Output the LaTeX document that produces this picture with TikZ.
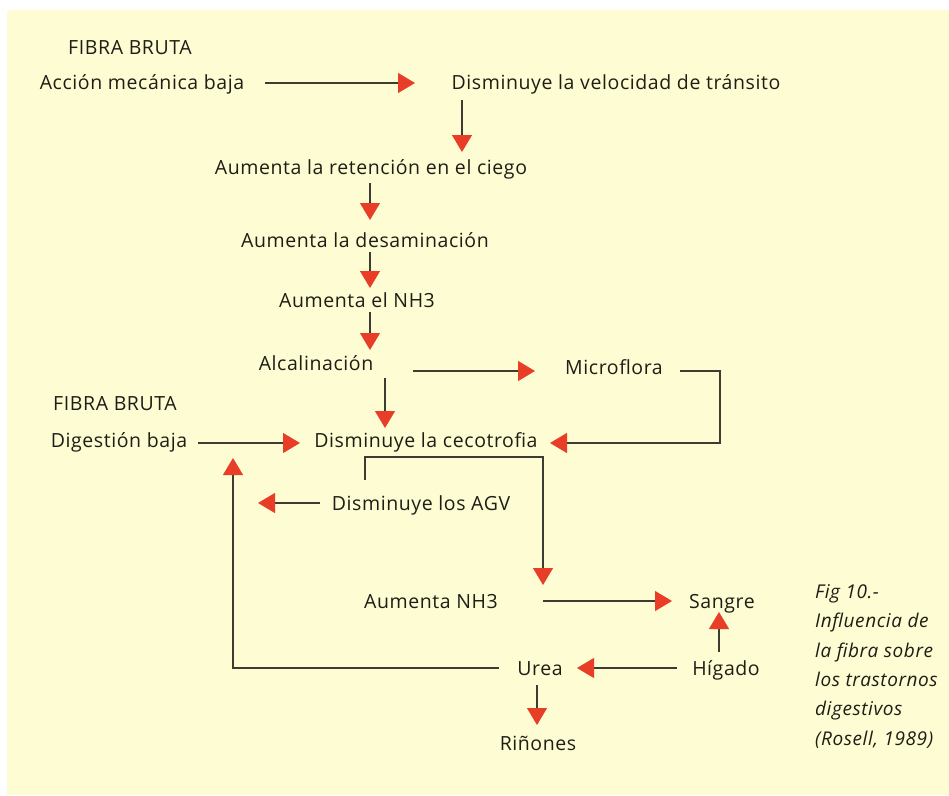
\documentclass[tikz,border=0pt]{standalone}
\usepackage{fontspec}
\setmainfont{Open Sans}[LetterSpace=3]
\usetikzlibrary{arrows.meta,calc}
\definecolor{bgyellow}{RGB}{254,252,210}
\definecolor{arrred}{RGB}{232,62,40}
\definecolor{linegray}{RGB}{60,60,50}
\definecolor{txt}{RGB}{30,30,22}
\begin{document}
\begin{tikzpicture}[x=1pt,y=-1pt,
  lbl/.style={inner sep=0pt,outer sep=0pt,text=txt,font=\fontsize{19.5}{22}\selectfont,text height=13pt,text depth=4pt,yshift=-2.5pt},
  arr/.style={draw=linegray,line width=1.1pt,-{Triangle[length=17pt,width=20pt,color=arrred]}},
  ln/.style={draw=linegray,line width=1.1pt}]
\useasboundingbox (0,0) rectangle (949,795);
\fill[white] (0,0) rectangle (949,795);
\fill[bgyellow] (7,10) rectangle (949,795);
% nodes
\node[lbl] (fb1) at (130,47) {FIBRA BRUTA};
\node[lbl] (acc) at (142,82) {Acción mecánica baja};
\node[lbl] (dvt) at (616,82) {Disminuye la velocidad de tránsito};
\node[lbl] (arc) at (371,167) {Aumenta la retención en el ciego};
\node[lbl] (ades) at (365,240) {Aumenta la desaminación};
\node[lbl] (anh) at (357,300) {Aumenta el NH3};
\node[lbl] (alc) at (316,363) {Alcalinación};
\node[lbl] (micro) at (614,367) {Microflora};
\node[lbl] (fb2) at (115,403) {FIBRA BRUTA};
\node[lbl] (dig) at (119,440) {Digestión baja};
\node[lbl] (dcec) at (426,440) {Disminuye la cecotrofia};
\node[lbl] (dagv) at (421,503) {Disminuye los AGV};
\node[lbl] (anh3) at (431,601) {Aumenta NH3};
\node[lbl] (sangre) at (722,601) {Sangre};
\node[lbl] (higado) at (726,668) {Hígado};
\node[lbl] (urea) at (540,668) {Urea};
\node[lbl] (rin) at (538,743) {Riñones};
\node[inner sep=0pt,anchor=base west,align=left,text=txt,
  font=\fontsize{19}{29.3}\selectfont\itshape] (cap) at (815,745)
  {Fig 10.-\\Influencia de\\la fibra sobre\\los trastornos\\digestivos\\(Rosell, 1989)};
% connectors
\coordinate (c1) at (265,83);
\coordinate (c2) at (415,83);
\draw[arr] (c1) -- (c2);
\coordinate (v1) at (462,100);
\coordinate (v2) at (462,152);
\draw[arr] (v1) -- (v2);
\coordinate (a1) at (370,183);
\coordinate (a2) at (370,220);
\draw[arr] (a1) -- (a2);
\coordinate (b1) at (370,252);
\coordinate (b2) at (370,288);
\draw[arr] (b1) -- (b2);
\coordinate (d1) at (370,312);
\coordinate (d2) at (370,350);
\draw[arr] (d1) -- (d2);
\coordinate (e1) at (413,371);
\coordinate (e2) at (535,371);
\draw[arr] (e1) -- (e2);
\coordinate (f1) at (385,378);
\coordinate (f2) at (385,428);
\draw[arr] (f1) -- (f2);
\coordinate (g1) at (680,371);
\coordinate (g2) at (550,443);
\draw[arr] (g1) -- (720,371) -- (720,443) -- (g2);
\coordinate (h1) at (198,443);
\coordinate (h2) at (300,443);
\draw[arr] (h1) -- (h2);
\coordinate (k1) at (365,480);
\coordinate (k2) at (543,585);
\draw[arr] (k1) -- (365,457) -- (543,457) -- (k2);
\coordinate (m1) at (320,503);
\coordinate (m2) at (258,503);
\draw[arr] (m1) -- (m2);
\coordinate (n1) at (543,601);
\coordinate (n2) at (672,601);
\draw[arr] (n1) -- (n2);
\coordinate (p1) at (719,652);
\coordinate (p2) at (719,612);
\draw[arr] (p1) -- (p2);
\coordinate (q1) at (677,668);
\coordinate (q2) at (577,668);
\draw[arr] (q1) -- (q2);
\coordinate (r1) at (499,668);
\coordinate (r2) at (233,458);
\draw[arr] (r1) -- (233,668) -- (r2);
\coordinate (s1) at (537,685);
\coordinate (s2) at (537,725);
\draw[arr] (s1) -- (s2);
\end{tikzpicture}
\end{document}
